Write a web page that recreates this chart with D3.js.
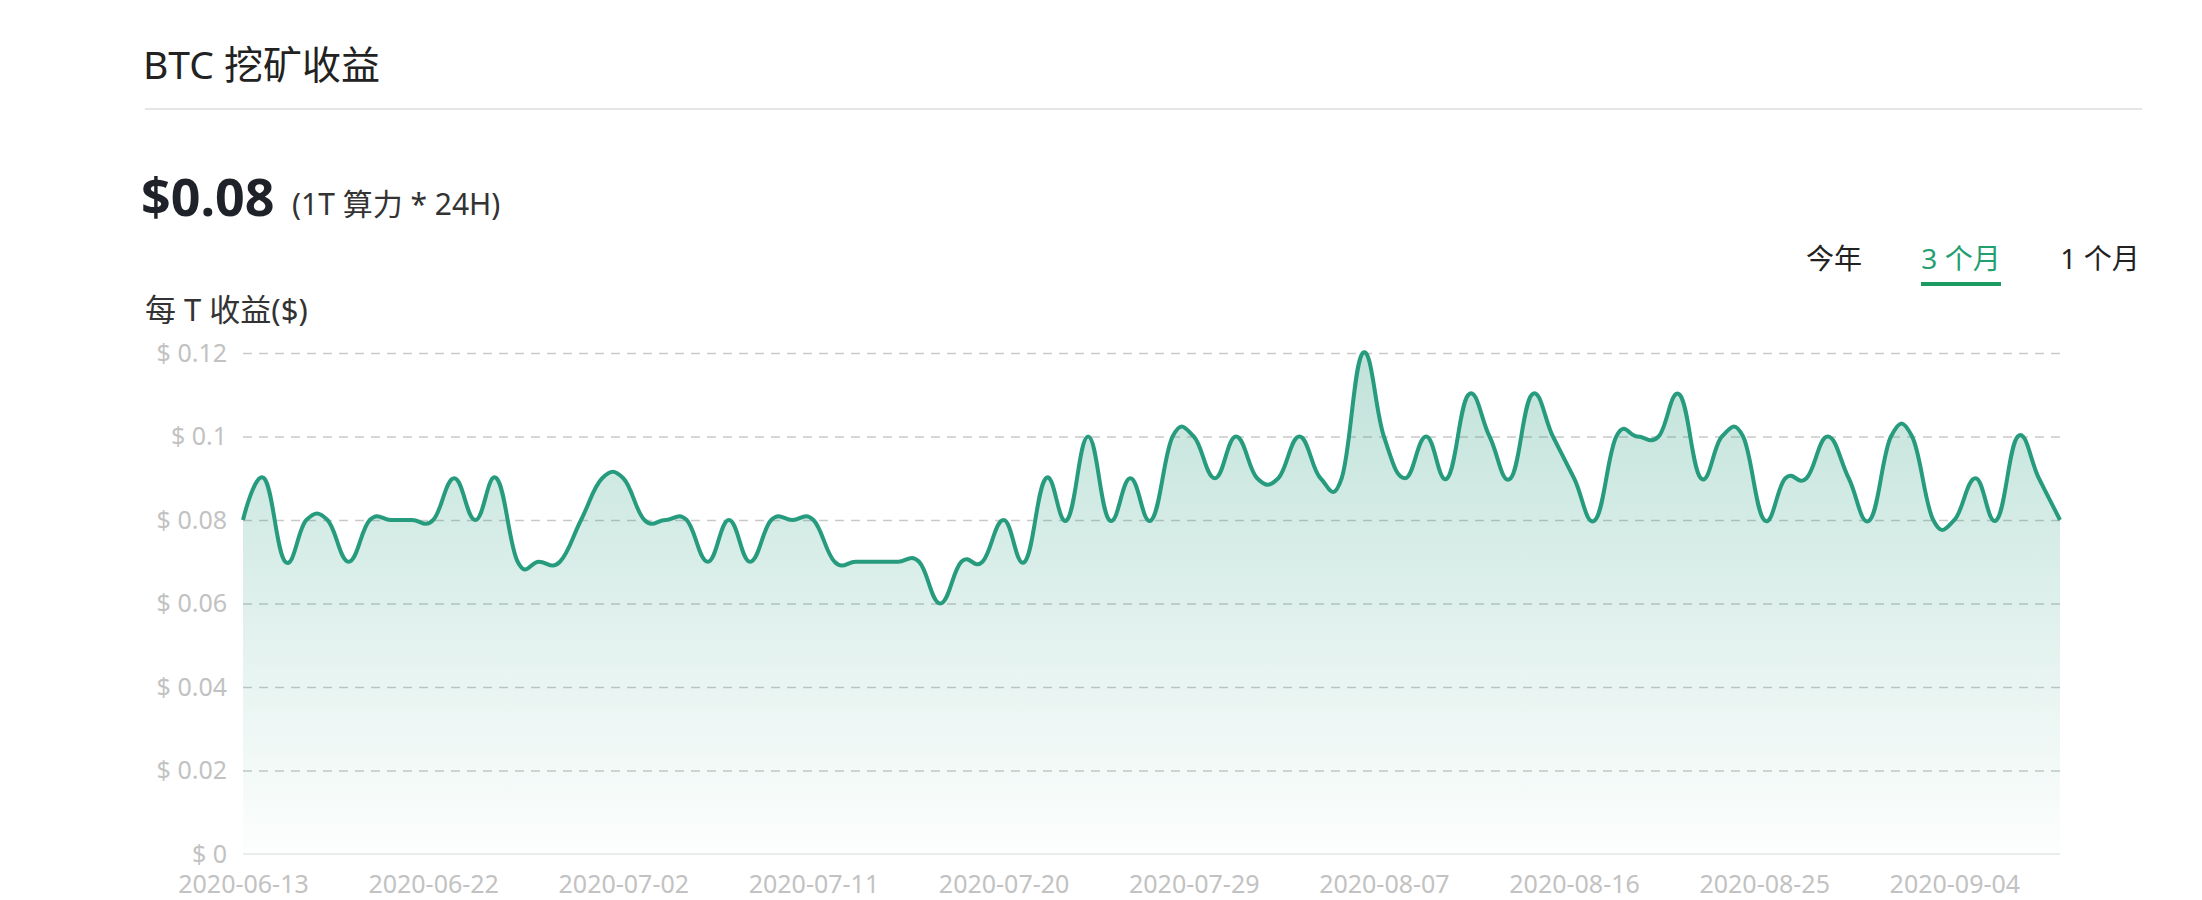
<!DOCTYPE html>
<html>
<head>
<meta charset="utf-8">
<script src="https://cdn.jsdelivr.net/npm/d3@7"></script>
<style>
  html, body { margin: 0; padding: 0; background: #fff; }
  svg { display: block; font-family: "Noto Sans", "Noto Sans CJK SC", sans-serif; }
</style>
</head>
<body>
<svg id="chart" width="2202" height="900"></svg>
<script>
// ---------------- data ----------------
const dates = [
  "2020-06-13","2020-06-14","2020-06-15","2020-06-16","2020-06-17","2020-06-18","2020-06-19","2020-06-20","2020-06-21","2020-06-22",
  "2020-06-23","2020-06-24","2020-06-25","2020-06-26","2020-06-28","2020-06-29","2020-06-30","2020-07-01","2020-07-02",
  "2020-07-03","2020-07-04","2020-07-05","2020-07-06","2020-07-07","2020-07-08","2020-07-09","2020-07-10","2020-07-11",
  "2020-07-12","2020-07-13","2020-07-14","2020-07-15","2020-07-16","2020-07-17","2020-07-18","2020-07-19","2020-07-20",
  "2020-07-21","2020-07-22","2020-07-23","2020-07-24","2020-07-25","2020-07-26","2020-07-27","2020-07-28","2020-07-29",
  "2020-07-30","2020-07-31","2020-08-01","2020-08-02","2020-08-03","2020-08-04","2020-08-05","2020-08-06","2020-08-07",
  "2020-08-08","2020-08-09","2020-08-10","2020-08-11","2020-08-12","2020-08-13","2020-08-14","2020-08-15","2020-08-16",
  "2020-08-17","2020-08-18","2020-08-19","2020-08-20","2020-08-21","2020-08-22","2020-08-23","2020-08-24","2020-08-25",
  "2020-08-26","2020-08-27","2020-08-28","2020-08-29","2020-08-31","2020-09-01","2020-09-02","2020-09-03","2020-09-04",
  "2020-09-05","2020-09-06","2020-09-07","2020-09-08","2020-09-09"
];
const earnings = [
  0.08,0.09,0.07,0.08,0.08,0.07,0.08,0.08,0.08,0.08,
  0.09,0.08,0.09,0.07,0.07,0.07,0.08,0.09,0.09,
  0.08,0.08,0.08,0.07,0.08,0.07,0.08,0.08,0.08,
  0.07,0.07,0.07,0.07,0.07,0.06,0.07,0.07,0.08,
  0.07,0.09,0.08,0.10,0.08,0.09,0.08,0.10,0.10,
  0.09,0.10,0.09,0.09,0.10,0.09,0.09,0.12,0.10,
  0.09,0.10,0.09,0.11,0.10,0.09,0.11,0.10,0.09,
  0.08,0.10,0.10,0.10,0.11,0.09,0.10,0.10,0.08,
  0.09,0.09,0.10,0.09,0.08,0.10,0.10,0.08,0.08,
  0.09,0.08,0.10,0.09,0.08
];
const yTicks = [0, 0.02, 0.04, 0.06, 0.08, 0.10, 0.12];
const xLabelEvery = 9;
const tabLabels = ["今年", "3 个月", "1 个月"];
const activeTab = "3 个月";
const titleText = "BTC 挖矿收益";
const currentValue = "$0.08";
const currentNote = "(1T 算力 * 24H)";
const yAxisName = "每 T 收益($)";

// ---------------- layout ----------------
const plot = { left: 243, right: 2060, top: 353, bottom: 854 };
const tabCenterX = [1834, 1961, 2100];
const lineColor = "#279b7e";
const svg = d3.select("#chart");

// header
svg.append("text").attr("x", 143).attr("y", 79)
  .attr("font-size", 39).attr("fill", "#222").text(titleText);
svg.append("line").attr("x1", 145).attr("x2", 2142).attr("y1", 109).attr("y2", 109)
  .attr("stroke", "#e6e6e6").attr("stroke-width", 2);
svg.append("text").attr("x", 141).attr("y", 216)
  .attr("font-size", 52).attr("font-weight", 700).attr("fill", "#1f2329").text(currentValue);
svg.append("text").attr("x", 292).attr("y", 215)
  .attr("font-size", 30).attr("fill", "#333").text(currentNote);
svg.append("text").attr("x", 145).attr("y", 321)
  .attr("font-size", 31).attr("fill", "#333").text(yAxisName);

// tabs
tabLabels.forEach((t, i) => {
  svg.append("text").attr("x", tabCenterX[i]).attr("y", 269)
    .attr("text-anchor", "middle").attr("font-size", 28)
    .attr("fill", t === activeTab ? "#23a06f" : "#222").text(t);
});
const activeIdx = tabLabels.indexOf(activeTab);
svg.append("rect").attr("x", tabCenterX[activeIdx] - 40).attr("y", 282)
  .attr("width", 80).attr("height", 4).attr("fill", "#1b9b62");

// scales
const x = d3.scalePoint().domain(dates).range([plot.left, plot.right]);
const y = d3.scaleLinear().domain([0, 0.12]).range([plot.bottom, plot.top]);

// gridlines
const grid = svg.append("g").attr("transform", `translate(${plot.left},0)`)
  .call(d3.axisRight(y).tickValues(yTicks.filter(v => v > 0)).tickSize(plot.right - plot.left).tickFormat(""));
grid.select(".domain").remove();
grid.selectAll(".tick line").attr("stroke", "#c9c9c9").attr("stroke-width", 1.5)
  .attr("stroke-dasharray", "9,7");

// baseline axis line
svg.append("line").attr("x1", plot.left).attr("x2", plot.right)
  .attr("y1", y(0)).attr("y2", y(0)).attr("stroke", "#ececec").attr("stroke-width", 2);

// gradient
const defs = svg.append("defs");
const grad = defs.append("linearGradient").attr("id", "areaGrad")
  .attr("gradientUnits", "userSpaceOnUse")
  .attr("x1", 0).attr("x2", 0).attr("y1", y(0.12)).attr("y2", y(0));
grad.append("stop").attr("offset", "0%").attr("stop-color", lineColor).attr("stop-opacity", 0.29);
grad.append("stop").attr("offset", "100%").attr("stop-color", lineColor).attr("stop-opacity", 0.01);

const curve = d3.curveCardinal.tension(-0.25);
const area = d3.area()
  .x((d, i) => x(dates[i])).y0(y(0)).y1(d => y(d)).curve(curve);
const line = d3.line()
  .x((d, i) => x(dates[i])).y(d => y(d)).curve(curve);

svg.append("path").datum(earnings).attr("d", area).attr("fill", "url(#areaGrad)");
svg.append("path").datum(earnings).attr("d", line).attr("fill", "none")
  .attr("stroke", lineColor).attr("stroke-width", 4).attr("stroke-linejoin", "round");

// y axis labels
const yAxis = svg.append("g").attr("transform", `translate(${plot.left},0)`)
  .call(d3.axisLeft(y).tickValues(yTicks).tickSize(0).tickPadding(16)
    .tickFormat(d => "$ " + (+d.toFixed(2))));
yAxis.select(".domain").remove();
yAxis.selectAll("text").attr("font-size", 25).attr("fill", "#c2c2c2")
  .attr("font-family", "\"Noto Sans\", sans-serif");

// x axis labels
const xAxis = svg.append("g").attr("transform", `translate(0,${plot.bottom})`)
  .call(d3.axisBottom(x).tickValues(dates.filter((d, i) => i % xLabelEvery === 0))
    .tickSize(0).tickPadding(21));
xAxis.select(".domain").remove();
xAxis.selectAll("text").attr("font-size", 25).attr("fill", "#c2c2c2")
  .attr("font-family", "\"Noto Sans\", sans-serif");
</script>
</body>
</html>
